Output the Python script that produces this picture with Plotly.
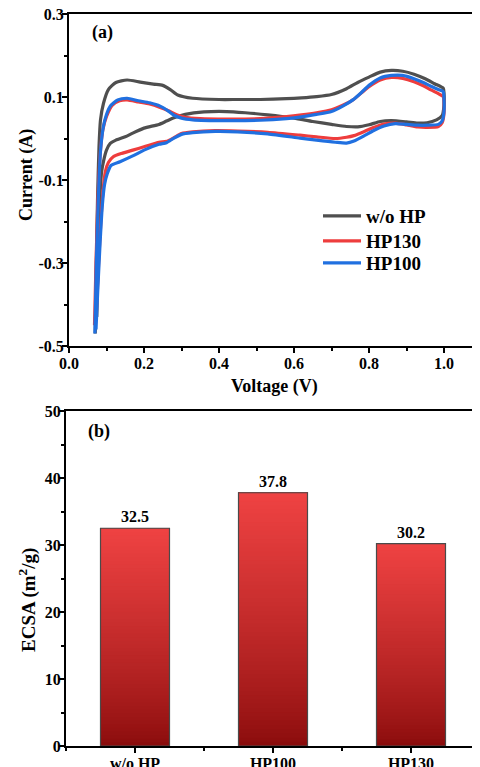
import plotly.graph_objects as go

# ---------------- data: CV curves (closed loops) ----------------
wo_hp_v = [0.070, 0.073, 0.076, 0.080, 0.084, 0.092, 0.105, 0.125, 0.155, 0.190, 0.225, 0.250, 0.270, 0.290, 0.330,
           0.40, 0.45, 0.51, 0.58, 0.62, 0.66, 0.70, 0.74, 0.77, 0.80, 0.83, 0.86, 0.89, 0.92, 0.95, 0.975, 0.998,
           1.000, 1.000, 0.995, 0.98, 0.955, 0.93, 0.90, 0.86, 0.83, 0.80, 0.77, 0.74, 0.70, 0.65, 0.60, 0.53, 0.47,
           0.42, 0.36, 0.31, 0.28, 0.26, 0.24, 0.20, 0.17, 0.15, 0.125, 0.11, 0.10, 0.092, 0.087, 0.082, 0.077, 0.074]
wo_hp_i = [-0.47, -0.30, -0.15, -0.02, 0.045, 0.085, 0.118, 0.135, 0.141, 0.136, 0.131, 0.128, 0.118, 0.105, 0.097,
           0.094, 0.094, 0.094, 0.096, 0.098, 0.101, 0.106, 0.120, 0.135, 0.148, 0.160, 0.164, 0.162, 0.155, 0.144, 0.132, 0.121,
           0.110, 0.080, 0.055, 0.045, 0.038, 0.037, 0.040, 0.043, 0.041, 0.033, 0.028, 0.029, 0.034, 0.041, 0.049, 0.057, 0.062,
           0.065, 0.064, 0.058, 0.050, 0.042, 0.034, 0.025, 0.013, 0.004, -0.004, -0.012, -0.028, -0.055, -0.080, -0.150, -0.300, -0.430]

hp130_v = [0.068, 0.072, 0.077, 0.083, 0.090, 0.100, 0.115, 0.135, 0.155, 0.185, 0.215, 0.243, 0.265, 0.287, 0.31,
           0.35, 0.42, 0.51, 0.58, 0.62, 0.66, 0.70, 0.73, 0.757, 0.78, 0.80, 0.83, 0.86, 0.89, 0.92, 0.945, 0.965, 0.985, 0.998,
           1.0, 1.0, 0.995, 0.985, 0.955, 0.93, 0.90, 0.87, 0.84, 0.81, 0.79, 0.76, 0.74, 0.71, 0.66, 0.616, 0.53, 0.45,
           0.39, 0.33, 0.30, 0.28, 0.26, 0.24, 0.20, 0.17, 0.14, 0.118, 0.105, 0.097, 0.091, 0.085, 0.079, 0.073]
hp130_i = [-0.45, -0.30, -0.15, -0.04, 0.02, 0.053, 0.080, 0.091, 0.093, 0.088, 0.083, 0.075, 0.067, 0.057, 0.051,
           0.048, 0.047, 0.048, 0.053, 0.057, 0.062, 0.069, 0.080, 0.093, 0.110, 0.125, 0.141, 0.147, 0.145, 0.137, 0.127, 0.117, 0.108, 0.101,
           0.085, 0.060, 0.038, 0.029, 0.027, 0.028, 0.033, 0.037, 0.035, 0.026, 0.018, 0.007, 0.003, 0.000, 0.004, 0.008, 0.015, 0.018,
           0.019, 0.016, 0.012, 0.002, -0.007, -0.009, -0.020, -0.028, -0.036, -0.044, -0.058, -0.080, -0.124, -0.200, -0.300, -0.420]

hp100_v = [0.069, 0.073, 0.078, 0.084, 0.092, 0.100, 0.110, 0.130, 0.155, 0.185, 0.215, 0.243, 0.265, 0.280, 0.30,
           0.33, 0.42, 0.51, 0.58, 0.62, 0.66, 0.70, 0.73, 0.757, 0.78, 0.80, 0.83, 0.86, 0.89, 0.92, 0.945, 0.965, 0.985, 0.998,
           1.0, 1.0, 0.995, 0.985, 0.955, 0.93, 0.90, 0.87, 0.84, 0.81, 0.79, 0.76, 0.74, 0.71, 0.66, 0.616, 0.53, 0.45,
           0.39, 0.33, 0.30, 0.28, 0.26, 0.24, 0.20, 0.17, 0.136, 0.112, 0.102, 0.095, 0.089, 0.083, 0.077, 0.072]
hp100_i = [-0.47, -0.30, -0.15, -0.03, 0.03, 0.058, 0.078, 0.093, 0.097, 0.091, 0.086, 0.078, 0.066, 0.056, 0.049,
           0.045, 0.043, 0.044, 0.048, 0.052, 0.058, 0.065, 0.078, 0.093, 0.111, 0.128, 0.146, 0.152, 0.152, 0.144, 0.135, 0.126, 0.118, 0.113,
           0.095, 0.065, 0.042, 0.034, 0.032, 0.032, 0.034, 0.036, 0.030, 0.018, 0.008, -0.006, -0.011, -0.009, -0.004, 0.001, 0.011, 0.016,
           0.017, 0.014, 0.010, 0.001, -0.010, -0.014, -0.028, -0.042, -0.056, -0.065, -0.085, -0.110, -0.160, -0.250, -0.360, -0.460]

# ---------------- data: ECSA bars ----------------
ecsa_cats = ["w/o HP", "HP100", "HP130"]
ecsa_vals = [32.5, 37.8, 30.2]

cv_x_ticks = [0.0, 0.2, 0.4, 0.6, 0.8, 1.0]
cv_x_labels = ["0.0", "0.2", "0.4", "0.6", "0.8", "1.0"]
cv_y_ticks = [-0.5, -0.3, -0.1, 0.1, 0.3]
cv_y_labels = ["-0.5", "-0.3", "-0.1", "0.1", "0.3"]
ecsa_y_ticks = [0, 10, 20, 30, 40, 50]

FONT = "Times New Roman, Liberation Serif, serif"
# page body has an 8px margin: figure sits at (8,8) in a 480x767 window
OFF = 8
W, H = 480 - OFF, 767 - OFF

def px(xw):  # window pixel x -> paper x
    return (xw - OFF) / W

def py(yw):  # window pixel y (from top) -> paper y
    return 1 - (yw - OFF) / H

fig = go.Figure()

# CV traces, each with its own legend box (to match row spacing)
series = [("w/o HP", wo_hp_v, wo_hp_i, "#4F4F4F", "legend", 216),
          ("HP130", hp130_v, hp130_i, "#EE3D3D", "legend2", 241),
          ("HP100", hp100_v, hp100_i, "#2070E0", "legend3", 263)]
legend_layouts = {}
for name, xv, yv, col, lg, ly in series:
    fig.add_trace(go.Scatter(x=xv, y=yv, mode="lines", name=name, legend=lg,
                             line=dict(color=col, width=3.2, shape="spline", smoothing=0.6),
                             xaxis="x", yaxis="y"))
    legend_layouts[lg] = dict(x=px(318), y=py(ly), xanchor="left", yanchor="middle",
                              bgcolor="rgba(0,0,0,0)", borderwidth=0, itemwidth=38,
                              font=dict(family=FONT, size=19, color="black", weight="bold"))

# Gradient bars: stacked overlapping segments
N = 60
top_rgb = (238, 66, 66)
bot_rgb = (138, 12, 12)
xpos = list(range(len(ecsa_cats)))
for k in range(N):
    t = k / (N - 1)
    tt = t ** 0.8
    c = tuple(int(round(bot_rgb[j] + (top_rgb[j] - bot_rgb[j]) * tt)) for j in range(3))
    bases = [v * k / N for v in ecsa_vals]
    heights = [v - b for v, b in zip(ecsa_vals, bases)]
    fig.add_trace(go.Bar(x=xpos, y=heights, base=bases, width=0.5,
                         marker=dict(color="rgb(%d,%d,%d)" % c, line=dict(width=0)),
                         showlegend=False, hoverinfo="skip", xaxis="x2", yaxis="y2"))
# outline + value labels
fig.add_trace(go.Bar(x=xpos, y=ecsa_vals, width=0.5,
                     marker=dict(color="rgba(0,0,0,0)", line=dict(color="#4a4a4a", width=1.2)),
                     text=[f"<b>{v:.1f}</b>" for v in ecsa_vals], textposition="outside",
                     textfont=dict(family=FONT, size=16, color="black"),
                     cliponaxis=False, showlegend=False, xaxis="x2", yaxis="y2"))

axis_common = dict(showline=True, linewidth=2, linecolor="black", showgrid=False, zeroline=False,
                   automargin=False, ticklabeloverflow="allow",
                   ticks="outside", ticklen=5, tickwidth=1.5, tickcolor="black",
                   tickfont=dict(family=FONT, size=16, color="black", weight="bold"))
minor_common = dict(ticks="outside", ticklen=3, tickcolor="black", tickwidth=1.5)

fig.update_layout(
    width=W, height=H, margin=dict(l=0, r=0, t=0, b=0, autoexpand=False),
    paper_bgcolor="white", plot_bgcolor="white",
    barmode="overlay",
    font=dict(family=FONT, color="black"),
    xaxis=dict(domain=[px(69), 1], range=[0, 1.096], anchor="y", mirror=True,
               tickmode="array", tickvals=cv_x_ticks, ticktext=cv_x_labels, ticklabelstandoff=-3,
               minor=dict(tickmode="linear", tick0=0, dtick=0.1, **minor_common),
               **axis_common),
    yaxis=dict(domain=[py(346), py(14)], range=[-0.5, 0.3], anchor="x",
               tickmode="array", tickvals=cv_y_ticks, ticktext=cv_y_labels, ticklabelstandoff=-5,
               minor=dict(tickmode="linear", tick0=-0.5, dtick=0.1, **minor_common),
               **axis_common),
    xaxis2=dict(domain=[px(66), 1], range=[-0.5, 2.5], anchor="y2", mirror=True,
                tickmode="array", tickvals=xpos, ticktext=ecsa_cats, ticklabelstandoff=-3,
                minor=dict(tickmode="linear", tick0=-0.5, dtick=0.5, **minor_common),
                **axis_common),
    yaxis2=dict(domain=[py(746), py(411)], range=[0, 50], anchor="x2",
                tickmode="array", tickvals=ecsa_y_ticks, ticklabelstandoff=-5,
                minor=dict(tickmode="linear", tick0=0, dtick=5, **minor_common),
                **axis_common),
    annotations=[
        dict(text="<b>(a)</b>", x=px(90), y=py(33), xref="paper", yref="paper",
             xanchor="left", yanchor="middle", showarrow=False, font=dict(family=FONT, size=18)),
        dict(text="<b>(b)</b>", x=px(86), y=py(431), xref="paper", yref="paper",
             xanchor="left", yanchor="middle", showarrow=False, font=dict(family=FONT, size=18)),
        dict(text="<b>Current (A)</b>", x=px(26), y=py(175), xref="paper", yref="paper",
             xanchor="center", yanchor="middle", textangle=-90, showarrow=False, font=dict(family=FONT, size=18)),
        dict(text="<b>ECSA (m<sup>2</sup>/g)</b>", x=px(27), y=py(600), xref="paper", yref="paper",
             xanchor="center", yanchor="middle", textangle=-90, showarrow=False, font=dict(family=FONT, size=19)),
        dict(text="<b>Voltage (V)</b>", x=px((69 + 480) / 2), y=py(386), xref="paper", yref="paper",
             xanchor="center", yanchor="middle", showarrow=False, font=dict(family=FONT, size=18)),
    ],
    **legend_layouts,
)

fig.write_html("out.html")
